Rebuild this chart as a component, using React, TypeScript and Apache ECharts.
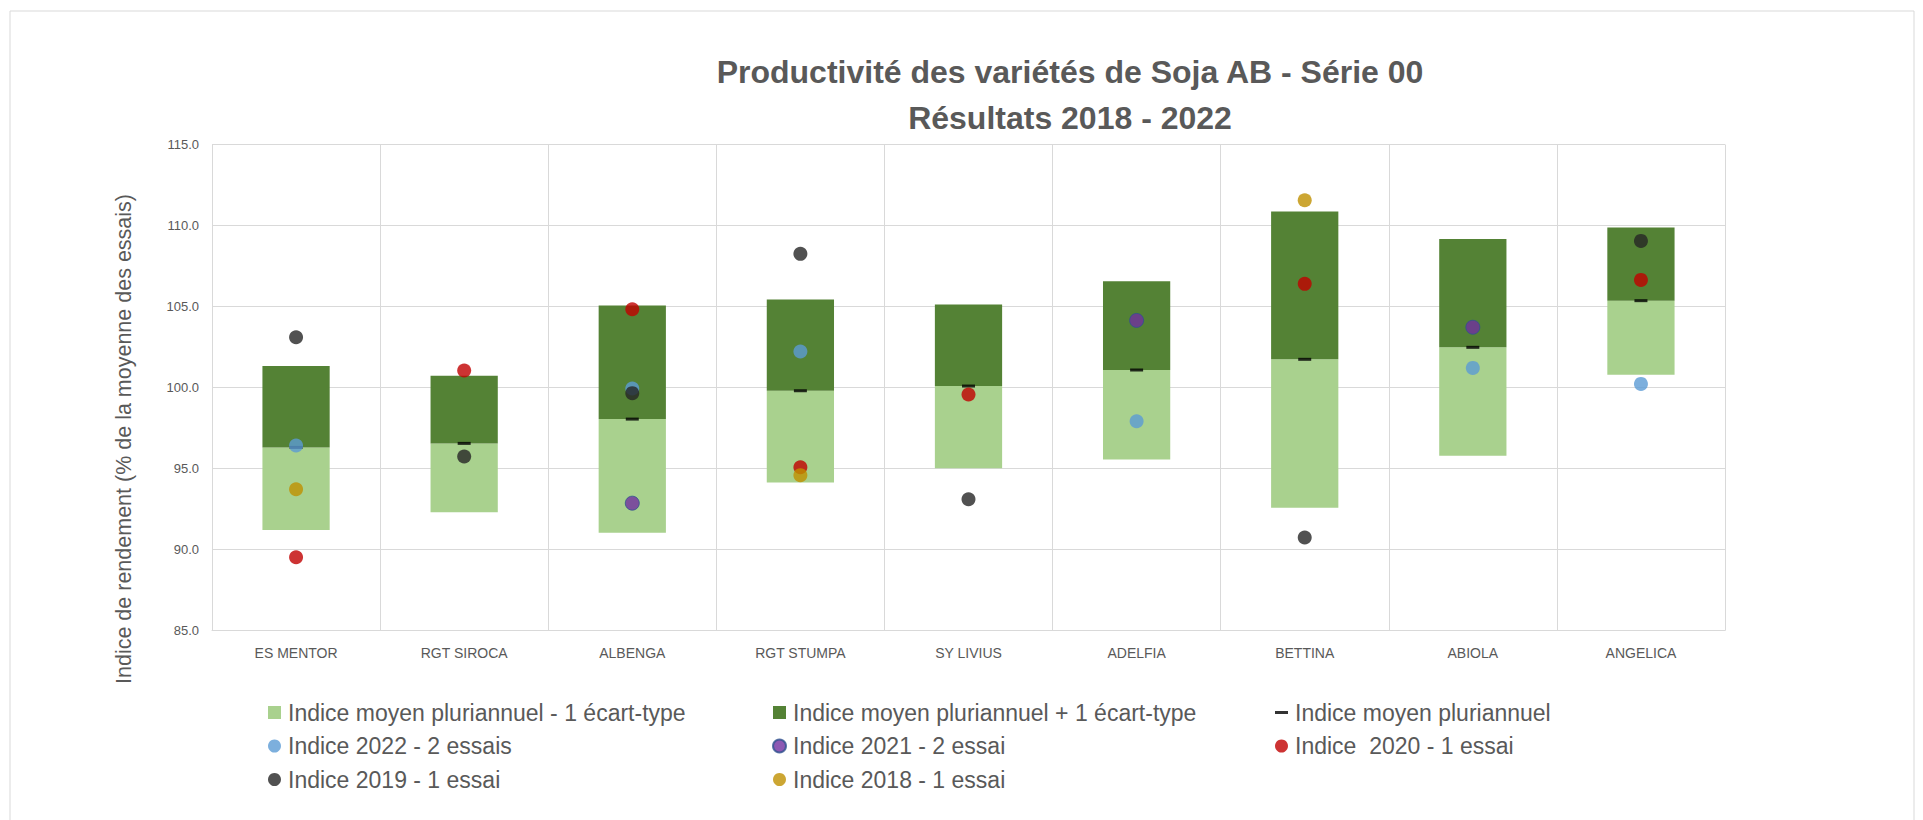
import React, { useEffect, useRef } from "react";
import * as echarts from "echarts";

const categories = [
  "ES MENTOR",
  "RGT SIROCA",
  "ALBENGA",
  "RGT STUMPA",
  "SY LIVIUS",
  "ADELFIA",
  "BETTINA",
  "ABIOLA",
  "ANGELICA",
];
const meanMinusSd = [91.21, 92.3, 91.03, 94.14, 95.02, 95.56, 92.57, 95.78, 100.78];
const meanIndex = [96.3, 96.55, 98.05, 99.8, 100.09, 101.08, 101.74, 102.48, 105.36];
const meanPlusSd = [101.33, 100.72, 105.06, 105.43, 105.12, 106.56, 110.86, 109.17, 109.88];
const idx2022 = [96.42, null, 99.94, 102.22, null, 97.92, null, 101.21, 100.22];
const idx2021 = [null, null, 92.86, null, null, 104.14, null, 103.72, null];
const idx2020 = [89.52, 101.05, 104.83, 95.08, 99.57, null, 106.4, null, 106.64];
const idx2019 = [103.1, 95.74, 99.65, 108.25, 93.1, null, 90.74, null, 109.05];
const idx2018 = [93.72, null, null, 94.59, null, null, 111.56, null, null];
const yMin = 85;
const yMax = 115;
const yStep = 5;

const titleLines = ["Productivité des variétés de Soja AB - Série 00", "Résultats 2018 - 2022"];
const yAxisTitle = "Indice de rendement (% de la moyenne des essais)";

const S_LOW = "Indice moyen pluriannuel - 1 écart-type";
const S_HIGH = "Indice moyen pluriannuel + 1 écart-type";
const S_MEAN = "Indice moyen pluriannuel";
const S_2022 = "Indice 2022 - 2 essais";
const S_2021 = "Indice 2021 - 2 essai";
const S_2020 = "Indice  2020 - 1 essai";
const S_2019 = "Indice 2019 - 1 essai";
const S_2018 = "Indice 2018 - 1 essai";

const FONT = "'Liberation Sans', Arial, sans-serif";
const GREY = "#595959";
const GRID = "#d9d9d9";

export default function App() {
  const ref = useRef<HTMLDivElement>(null);
  useEffect(() => {
    if (!ref.current) return;
    const chart = echarts.init(ref.current, undefined, { renderer: "svg" });

    const lowPart = meanIndex.map((m, i) => +(m - meanMinusSd[i]).toFixed(3));
    const highPart = meanPlusSd.map((h, i) => +(h - meanIndex[i]).toFixed(3));

    const dot = (name: string, data: (number | null)[], color: string, border?: string) => ({
      name,
      type: "scatter",
      data,
      symbol: "circle",
      symbolSize: 14,
      itemStyle: border
        ? { color, borderColor: border, borderWidth: 1 }
        : { color },
      z: 5,
    });

    const legendText = {
      fontSize: 23,
      color: GREY,
      fontFamily: FONT,
      lineHeight: 21,
      padding: [0, 0, 0, 2],
    };
    const dashIcon = "path://M0,0 L13,0 L13,3 L0,3 Z";
    const legendBase = {
      orient: "vertical",
      top: 701,
      padding: 0,
      itemWidth: 13,
      itemHeight: 13,
      itemGap: 10.5,
      selectedMode: false,
      textStyle: legendText,
    };

    chart.setOption({
      animation: false,
      backgroundColor: "#ffffff",
      grid: { left: 212, right: 198, top: 144.5, bottom: 189.5, containLabel: false },
      graphic: [
        {
          type: "rect",
          shape: { x: 10, y: 11, width: 1904, height: 840 },
          style: { fill: "none", stroke: GRID, lineWidth: 1 },
          silent: true,
        },
        {
          type: "text",
          x: 1070,
          y: 72,
          style: {
            text: titleLines[0],
            fontSize: 32,
            fontWeight: "bold",
            fontFamily: FONT,
            fill: GREY,
            textAlign: "center",
            textVerticalAlign: "middle",
          },
        },
        {
          type: "text",
          x: 1070,
          y: 118,
          style: {
            text: titleLines[1],
            fontSize: 32,
            fontWeight: "bold",
            fontFamily: FONT,
            fill: GREY,
            textAlign: "center",
            textVerticalAlign: "middle",
          },
        },
        {
          type: "text",
          x: 124,
          y: 439,
          rotation: Math.PI / 2,
          style: {
            text: yAxisTitle,
            fontSize: 21.5,
            fontFamily: FONT,
            fill: GREY,
            textAlign: "center",
            textVerticalAlign: "middle",
          },
        },
      ],
      legend: [
        { ...legendBase, left: 268, data: [{ name: S_LOW, icon: "rect" }, { name: S_2022, icon: "circle" }, { name: S_2019, icon: "circle" }] },
        { ...legendBase, left: 772, data: [{ name: S_HIGH, icon: "rect" }, { name: S_2021, icon: "circle" }, { name: S_2018, icon: "circle" }] },
        { ...legendBase, left: 1275, data: [{ name: S_MEAN, icon: dashIcon }, { name: S_2020, icon: "circle" }] },
      ],
      xAxis: {
        type: "category",
        data: categories,
        boundaryGap: true,
        axisLine: { show: true, lineStyle: { color: GRID, width: 1 } },
        axisTick: { show: false },
        axisLabel: { color: GREY, fontSize: 14, fontFamily: FONT, margin: 15, interval: 0 },
        splitLine: { show: true, lineStyle: { color: GRID, width: 1 } },
      },
      yAxis: {
        type: "value",
        min: yMin,
        max: yMax,
        interval: yStep,
        axisLine: { show: false },
        axisTick: { show: false },
        axisLabel: {
          color: GREY,
          fontSize: 13,
          fontFamily: FONT,
          margin: 13,
          formatter: (v: number) => v.toFixed(1),
        },
        splitLine: { show: true, lineStyle: { color: GRID, width: 1 } },
      },
      series: [
        {
          name: "base",
          type: "bar",
          stack: "band",
          data: meanMinusSd,
          barWidth: "40%",
          itemStyle: { color: "rgba(0,0,0,0)" },
          silent: true,
        },
        {
          name: S_LOW,
          type: "bar",
          stack: "band",
          data: lowPart,
          barWidth: "40%",
          itemStyle: { color: "#A9D18E" },
        },
        {
          name: S_HIGH,
          type: "bar",
          stack: "band",
          data: highPart,
          barWidth: "40%",
          itemStyle: { color: "#548235" },
        },
        {
          name: S_MEAN,
          type: "scatter",
          data: meanIndex,
          symbol: "rect",
          symbolSize: [13, 3],
          itemStyle: { color: "#000000" },
          z: 4,
        },
        dot(S_2022, idx2022, "#5B9BD5"),
        dot(S_2021, idx2021, "#7030A0", "#2F528F"),
        dot(S_2020, idx2020, "#C00000"),
        dot(S_2019, idx2019, "#262626"),
        dot(S_2018, idx2018, "#BF9000"),
      ],
    });
    return () => chart.dispose();
  }, []);
  return (
    <div
      ref={ref}
      style={{ position: "fixed", left: 0, top: 0, width: 1923, height: 820, background: "#fff" }}
    />
  );
}
